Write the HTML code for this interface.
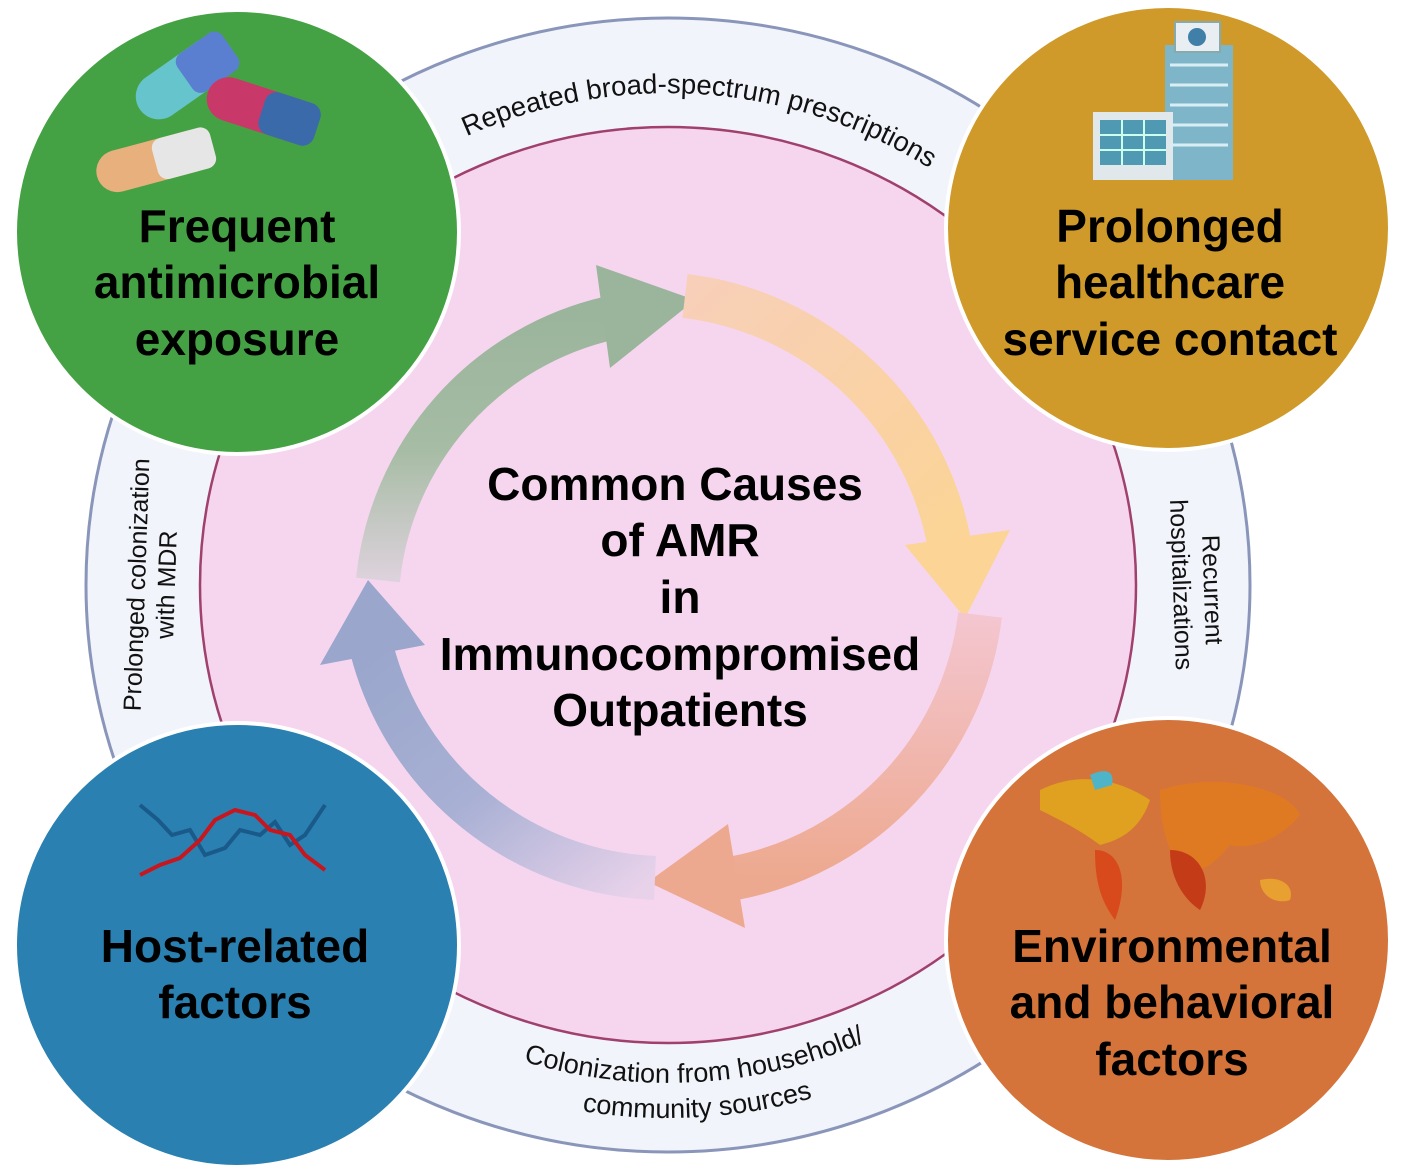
<!DOCTYPE html>
<html><head><meta charset="utf-8"><style>
html,body{margin:0;padding:0;background:#fff;}
svg{display:block;font-family:"Liberation Sans",Arial,sans-serif;}
</style></head><body>
<svg width="1407" height="1173" viewBox="0 0 1407 1173" xmlns="http://www.w3.org/2000/svg">
<defs>
<linearGradient id="g1" x1="0" y1="1" x2="0" y2="0"><stop offset="0" stop-color="#ddd2dc"/><stop offset="0.5" stop-color="#a6bca4"/><stop offset="1" stop-color="#9bb59c"/></linearGradient>
<linearGradient id="g2" x1="0" y1="0" x2="1" y2="1"><stop offset="0" stop-color="#f8cfb8"/><stop offset="1" stop-color="#fbd496"/></linearGradient>
<linearGradient id="g3" x1="0" y1="0" x2="0" y2="1"><stop offset="0" stop-color="#f4c6d0"/><stop offset="1" stop-color="#eda98f"/></linearGradient>
<linearGradient id="g4" x1="1" y1="1" x2="0" y2="0"><stop offset="0" stop-color="#e8d2ea"/><stop offset="0.5" stop-color="#a8b0d4"/><stop offset="1" stop-color="#9aa6cc"/></linearGradient>
<path id="topArc" d="M 176 585 A 492 492 0 0 1 1160 585"/>
<path id="botArc1" d="M 170 585 A 498 498 0 0 0 1166 585"/>
<path id="botArc2" d="M 135 585 A 533 533 0 0 0 1201 585"/>
</defs>
<ellipse cx="668" cy="585" rx="582" ry="567" fill="#f1f4fa" stroke="#8a95ba" stroke-width="3"/>
<ellipse cx="668" cy="585" rx="468" ry="458" fill="#f6d6ee" stroke="#a0406c" stroke-width="2.5"/>

<!-- ring texts -->
<text font-size="27.5" fill="#111"><textPath href="#topArc" startOffset="52.2%" text-anchor="middle">Repeated broad-spectrum prescriptions</textPath></text>
<text font-size="27" fill="#111"><textPath href="#botArc1" startOffset="51.8%" text-anchor="middle">Colonization from household/</textPath></text>
<text font-size="27" fill="#111"><textPath href="#botArc2" startOffset="51.8%" text-anchor="middle">community sources</textPath></text>
<text font-size="25" fill="#111" text-anchor="middle" transform="translate(145,585) rotate(-88)">Prolonged colonization</text>
<text font-size="25" fill="#111" text-anchor="middle" transform="translate(175,585) rotate(-88)">with MDR</text>
<text font-size="25" fill="#111" text-anchor="middle" transform="translate(1204,590) rotate(88)">Recurrent</text>
<text font-size="25" fill="#111" text-anchor="middle" transform="translate(1173,585) rotate(88)">hospitalizations</text>

<!-- cycle arrows -->
<path d="M 378 580 A 300 300 0 0 1 610 318" fill="none" stroke="url(#g1)" stroke-width="44"/>
<polygon points="596,265 695,300 610,368" fill="#9bb59c"/>
<path d="M 685 296 A 305 305 0 0 1 950 548" fill="none" stroke="url(#g2)" stroke-width="44"/>
<polygon points="905,545 1010,530 965,618" fill="#fbd496"/>
<path d="M 980 615 A 305 305 0 0 1 735 878" fill="none" stroke="url(#g3)" stroke-width="44"/>
<polygon points="728,824 745,928 648,882" fill="#eda98f"/>
<path d="M 655 878 A 305 305 0 0 1 372 650" fill="none" stroke="url(#g4)" stroke-width="44"/>
<polygon points="320,665 425,645 368,580" fill="#9aa6cc"/>

<!-- center title -->
<g font-size="46" font-weight="bold" fill="#000" text-anchor="middle">
<text x="675" y="500">Common Causes</text>
<text x="680" y="556">of AMR</text>
<text x="680" y="613">in</text>
<text x="680" y="670">Immunocompromised</text>
<text x="680" y="726">Outpatients</text>
</g>

<!-- circles -->
<circle cx="237" cy="232" r="222" fill="#45a244" stroke="#fff" stroke-width="4"/>
<circle cx="1168" cy="228" r="222" fill="#cf9a2a" stroke="#fff" stroke-width="4"/>
<circle cx="237" cy="945" r="222" fill="#2a80b0" stroke="#fff" stroke-width="4"/>
<circle cx="1168" cy="940" r="222" fill="#d4733a" stroke="#fff" stroke-width="4"/>

<!-- pills -->
<g>
<rect x="130" y="55" width="110" height="46" rx="23" fill="#66c4cc" transform="rotate(-35 185 78)"/>
<rect x="185" y="55" width="55" height="46" rx="10" fill="#5b7fd0" transform="rotate(-35 185 78)"/>
<rect x="205" y="88" width="115" height="44" rx="22" fill="#c8396a" transform="rotate(18 262 110)"/>
<rect x="262" y="88" width="58" height="44" rx="12" fill="#3b6aaa" transform="rotate(18 262 110)"/>
<rect x="95" y="140" width="120" height="42" rx="21" fill="#e8b07c" transform="rotate(-15 155 161)"/>
<rect x="155" y="140" width="60" height="42" rx="10" fill="#e6e6e6" transform="rotate(-15 155 161)"/>
</g>
<g font-size="46" font-weight="bold" fill="#000" text-anchor="middle">
<text x="237" y="242">Frequent</text>
<text x="237" y="298">antimicrobial</text>
<text x="237" y="355">exposure</text>
</g>

<!-- building -->
<g>
<rect x="1165" y="45" width="68" height="135" fill="#7fb5c8"/>
<rect x="1175" y="22" width="45" height="30" fill="#e8eef2" stroke="#8aa" stroke-width="2"/>
<circle cx="1197" cy="37" r="9" fill="#3f7fa8"/>
<rect x="1093" y="112" width="80" height="68" fill="#e0e8ec"/>
<rect x="1100" y="120" width="66" height="45" fill="#4f9ab2"/>
<g stroke="#cfe" stroke-width="2"><line x1="1100" y1="135" x2="1166" y2="135"/><line x1="1100" y1="150" x2="1166" y2="150"/><line x1="1122" y1="120" x2="1122" y2="165"/><line x1="1144" y1="120" x2="1144" y2="165"/></g>
<g stroke="#d8eef4" stroke-width="3"><line x1="1170" y1="65" x2="1228" y2="65"/><line x1="1170" y1="85" x2="1228" y2="85"/><line x1="1170" y1="105" x2="1228" y2="105"/><line x1="1170" y1="125" x2="1228" y2="125"/><line x1="1170" y1="145" x2="1228" y2="145"/></g>
</g>
<g font-size="46" font-weight="bold" fill="#000" text-anchor="middle">
<text x="1170" y="242">Prolonged</text>
<text x="1170" y="298">healthcare</text>
<text x="1170" y="355">service contact</text>
</g>

<!-- dna -->
<g fill="none" stroke-width="4">
<polyline points="140,805 158,820 172,835 190,830 205,855 225,848 240,830 260,835 275,822 290,845 305,835 325,805" stroke="#1a5a8a"/>
<polyline points="140,875 160,865 180,858 200,840 215,820 235,810 255,815 270,830 290,835 305,855 325,870" stroke="#c8161e"/>
</g>
<g font-size="46" font-weight="bold" fill="#000" text-anchor="middle">
<text x="235" y="962">Host-related</text>
<text x="235" y="1018">factors</text>
</g>

<!-- map -->
<g>
<path d="M1040 790 C1080 770 1120 780 1150 800 C1140 830 1120 840 1100 845 C1080 830 1060 820 1040 810 Z" fill="#e0a020"/>
<path d="M1095 850 C1120 850 1130 880 1115 920 C1100 900 1095 880 1095 850 Z" fill="#d84a1c"/>
<path d="M1160 790 C1220 770 1290 790 1300 815 C1280 840 1250 850 1230 845 C1210 870 1190 880 1175 860 C1165 840 1160 820 1160 790 Z" fill="#e07a22"/>
<path d="M1170 850 C1200 850 1215 880 1200 910 C1185 900 1170 880 1170 850 Z" fill="#c43b18"/>
<path d="M1260 880 C1280 875 1295 885 1290 900 C1275 905 1260 895 1260 880 Z" fill="#e8a030"/>
<path d="M1090 775 C1105 768 1115 770 1112 785 L1095 790 Z" fill="#4fb4c8"/>
</g>
<g font-size="46" font-weight="bold" fill="#000" text-anchor="middle">
<text x="1172" y="962">Environmental</text>
<text x="1172" y="1018">and behavioral</text>
<text x="1172" y="1075">factors</text>
</g>
</svg>
</body></html>
